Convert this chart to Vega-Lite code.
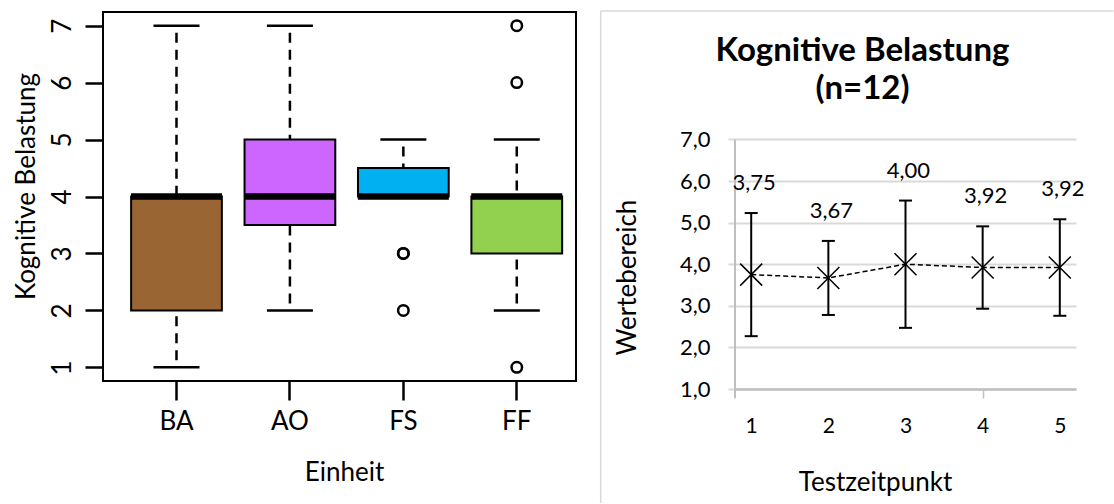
{
  "$schema": "https://vega.github.io/schema/vega-lite/v6.json",
  "padding": {"left": 12, "top": 10, "right": 0, "bottom": 0},
  "background": "white",
  "spacing": 22,
  "config": {"font": "Lato", "view": {"stroke": null}},
  "datasets": {
    "boxes": [
      {"unit": "BA", "min": 1, "q1": 2, "median": 4, "q3": 4, "max": 7},
      {"unit": "AO", "min": 2, "q1": 3.5, "median": 4, "q3": 5, "max": 7},
      {"unit": "FS", "min": 4, "q1": 4, "median": 4, "q3": 4.5, "max": 5},
      {"unit": "FF", "min": 2, "q1": 3, "median": 4, "q3": 4, "max": 5}
    ],
    "outliers": [
      {"unit": "FS", "value": 3},
      {"unit": "FS", "value": 3},
      {"unit": "FS", "value": 2},
      {"unit": "FF", "value": 7},
      {"unit": "FF", "value": 6},
      {"unit": "FF", "value": 1}
    ],
    "means": [
      {"t": 1, "mean": 3.75, "lo": 2.27, "hi": 5.23, "label": "3,75"},
      {"t": 2, "mean": 3.67, "lo": 2.78, "hi": 4.56, "label": "3,67"},
      {"t": 3, "mean": 4.0, "lo": 2.47, "hi": 5.53, "label": "4,00"},
      {"t": 4, "mean": 3.92, "lo": 2.93, "hi": 4.91, "label": "3,92"},
      {"t": 5, "mean": 3.92, "lo": 2.76, "hi": 5.08, "label": "3,92"}
    ]
  },
  "hconcat": [
    {
      "width": 473,
      "height": 369,
      "view": {"stroke": "black", "strokeWidth": 2},
      "encoding": {
        "x": {
          "field": "unit", "type": "nominal", "sort": ["BA", "AO", "FS", "FF"],
          "scale": {"paddingInner": 0.2, "paddingOuter": 0.185, "align": 0.67},
          "axis": {"title": "Einheit", "labelAngle": 0, "tickSize": 19, "tickWidth": 2.5, "tickColor": "black", "domain": false,
                   "labelFontSize": 26, "labelPadding": 8, "labelColor": "black",
                   "titleFontSize": 26, "titleFontWeight": "normal", "titleColor": "black",
                   "titleX": 241, "titleY": 91, "titleAlign": "center", "titleBaseline": "middle"}
        }
      },
      "layer": [
        {
          "data": {"name": "boxes"},
          "mark": {"type": "rule", "strokeDash": [10, 7], "strokeDashOffset": 10, "strokeWidth": 2.5, "color": "black"},
          "encoding": {
            "y": {"field": "max", "type": "quantitative", "scale": {"domain": [0.76, 7.24], "nice": false, "zero": false},
                  "axis": {"title": "Kognitive Belastung", "values": [1, 2, 3, 4, 5, 6, 7], "format": "d", "grid": false, "domain": false,
                           "labelAngle": -90, "labelAlign": "center", "labelBaseline": "bottom",
                           "tickSize": 18, "tickWidth": 2.5, "tickColor": "black",
                           "labelFontSize": 26, "labelPadding": 10, "labelColor": "black",
                           "titleFontSize": 26, "titleFontWeight": "normal", "titleColor": "black",
                           "titleX": -77, "titleY": 174, "titleAlign": "center", "titleBaseline": "middle", "titleAngle": -90}},
            "y2": {"field": "q3"}
          }
        },
        {
          "data": {"name": "boxes"},
          "mark": {"type": "rule", "strokeDash": [10, 7], "strokeDashOffset": 10, "strokeWidth": 2.5, "color": "black"},
          "encoding": {
            "y": {"field": "min", "type": "quantitative", "scale": {"domain": [0.76, 7.24], "nice": false, "zero": false}},
            "y2": {"field": "q1"}
          }
        },
        {
          "data": {"name": "boxes"},
          "mark": {"type": "tick", "orient": "horizontal", "size": 46, "thickness": 2.5, "color": "black", "opacity": 1},
          "encoding": {
            "y": {"field": "max", "type": "quantitative", "scale": {"domain": [0.76, 7.24], "nice": false, "zero": false}}
          }
        },
        {
          "data": {"name": "boxes"},
          "mark": {"type": "tick", "orient": "horizontal", "size": 46, "thickness": 2.5, "color": "black", "opacity": 1},
          "encoding": {
            "y": {"field": "min", "type": "quantitative", "scale": {"domain": [0.76, 7.24], "nice": false, "zero": false}}
          }
        },
        {
          "data": {"name": "boxes"},
          "mark": {"type": "bar", "stroke": "black", "strokeWidth": 2, "opacity": 1},
          "encoding": {
            "y": {"field": "q1", "type": "quantitative", "scale": {"domain": [0.76, 7.24], "nice": false, "zero": false}},
            "y2": {"field": "q3"},
            "fill": {"field": "unit", "type": "nominal", "scale": {"domain": ["BA", "AO", "FS", "FF"], "range": ["#996633", "#CC66FF", "#00B0F0", "#92D050"]}, "legend": null}
          }
        },
        {
          "data": {"name": "boxes"},
          "mark": {"type": "tick", "orient": "horizontal", "size": 91, "thickness": 6.5, "color": "black", "opacity": 1},
          "encoding": {
            "y": {"field": "median", "type": "quantitative", "scale": {"domain": [0.76, 7.24], "nice": false, "zero": false}}
          }
        },
        {
          "data": {"name": "outliers"},
          "mark": {"type": "point", "shape": "circle", "filled": false, "stroke": "black", "strokeWidth": 2.5, "size": 110, "opacity": 1},
          "encoding": {
            "y": {"field": "value", "type": "quantitative", "scale": {"domain": [0.76, 7.24], "nice": false, "zero": false}}
          }
        }
      ]
    },
    {
      "width": 341,
      "height": 377,
      "title": {"text": ["Kognitive Belastung", "(n=12)"], "fontSize": 33, "fontWeight": "bold", "color": "black", "anchor": "middle", "frame": "group", "offset": -96, "lineHeight": 38, "dx": -43},
      "layer": [
        {
          "data": {"name": "means"},
          "mark": {"type": "rule", "color": "black", "strokeWidth": 2},
          "encoding": {
            "x": {"field": "t", "type": "quantitative", "scale": {"domain": [0.79, 5.21], "nice": false, "zero": false},
                  "axis": {"title": "Testzeitpunkt", "values": [1, 2, 3, 4, 5], "format": "d", "grid": false,
                           "domain": true, "domainColor": "#bfbfbf", "domainWidth": 2.5,
                           "tickSize": 9, "tickWidth": 1.5,
                           "tickColor": {"condition": {"test": "datum.value === 4", "value": "#bfbfbf"}, "value": "transparent"},
                           "labelFontSize": 21, "labelPadding": 17, "labelColor": "black",
                           "titleFontSize": 26, "titleFontWeight": "normal", "titleColor": "black",
                           "titleX": 140, "titleY": 93, "titleAlign": "center", "titleBaseline": "middle"}},
            "y": {"field": "lo", "type": "quantitative", "scale": {"domain": [1, 10.063], "nice": false, "zero": false},
                  "axis": {"title": "Wertebereich", "values": [1, 2, 3, 4, 5, 6, 7],
                           "labelExpr": "replace(format(datum.value, '.1f'), '.', ',')",
                           "grid": true, "gridColor": "#d9d9d9", "gridWidth": 2, "domain": false,
                           "tickSize": 7, "tickWidth": 2, "tickColor": "#d9d9d9",
                           "labelFontSize": 22, "labelPadding": 18, "labelColor": "black",
                           "titleFontSize": 26, "titleFontWeight": "normal", "titleColor": "black",
                           "titleX": -108, "titleY": 265, "titleAlign": "center", "titleBaseline": "middle", "titleAngle": -90}},
            "y2": {"field": "hi"}
          }
        },
        {
          "data": {"values": [{}]},
          "mark": {"type": "rule", "color": "#d9d9d9", "strokeWidth": 1.5, "clip": false},
          "encoding": {
            "x": {"datum": -0.951, "type": "quantitative", "scale": {"domain": [0.79, 5.21], "nice": false, "zero": false}},
            "x2": {"datum": 5.698},
            "y": {"datum": 10.087, "type": "quantitative", "scale": {"domain": [1, 10.063], "nice": false, "zero": false}}
          }
        },
        {
          "data": {"values": [{}]},
          "mark": {"type": "rule", "color": "#d9d9d9", "strokeWidth": 1.5, "clip": false},
          "encoding": {
            "x": {"datum": -0.951, "type": "quantitative", "scale": {"domain": [0.79, 5.21], "nice": false, "zero": false}},
            "y": {"datum": -1.74, "type": "quantitative", "scale": {"domain": [1, 10.063], "nice": false, "zero": false}},
            "y2": {"datum": 10.087}
          }
        },
        {
          "data": {"values": [{}]},
          "mark": {"type": "rule", "color": "#bfbfbf", "strokeWidth": 2, "clip": false},
          "encoding": {
            "x": {"datum": 0.79, "type": "quantitative", "scale": {"domain": [0.79, 5.21], "nice": false, "zero": false}},
            "y": {"datum": 0.78, "type": "quantitative", "scale": {"domain": [1, 10.063], "nice": false, "zero": false}},
            "y2": {"datum": 7}
          }
        },
        {
          "data": {"name": "means"},
          "mark": {"type": "line", "color": "black", "strokeWidth": 1.5, "strokeDash": [5, 3]},
          "encoding": {
            "x": {"field": "t", "type": "quantitative", "scale": {"domain": [0.79, 5.21], "nice": false, "zero": false}},
            "y": {"field": "mean", "type": "quantitative", "scale": {"domain": [1, 10.063], "nice": false, "zero": false}}
          }
        },
        {
          "data": {"name": "means"},
          "mark": {"type": "tick", "orient": "horizontal", "size": 13, "thickness": 2, "color": "black", "opacity": 1},
          "encoding": {
            "x": {"field": "t", "type": "quantitative", "scale": {"domain": [0.79, 5.21], "nice": false, "zero": false}},
            "y": {"field": "lo", "type": "quantitative", "scale": {"domain": [1, 10.063], "nice": false, "zero": false}}
          }
        },
        {
          "data": {"name": "means"},
          "mark": {"type": "tick", "orient": "horizontal", "size": 13, "thickness": 2, "color": "black", "opacity": 1},
          "encoding": {
            "x": {"field": "t", "type": "quantitative", "scale": {"domain": [0.79, 5.21], "nice": false, "zero": false}},
            "y": {"field": "hi", "type": "quantitative", "scale": {"domain": [1, 10.063], "nice": false, "zero": false}}
          }
        },
        {
          "data": {"name": "means"},
          "mark": {"type": "point", "shape": "M-1,-1L1,1M-1,1L1,-1", "filled": false, "stroke": "black", "strokeWidth": 1.5, "size": 484, "opacity": 1},
          "encoding": {
            "x": {"field": "t", "type": "quantitative", "scale": {"domain": [0.79, 5.21], "nice": false, "zero": false}},
            "y": {"field": "mean", "type": "quantitative", "scale": {"domain": [1, 10.063], "nice": false, "zero": false}}
          }
        },
        {
          "data": {"name": "means"},
          "mark": {"type": "text", "fontSize": 22, "color": "black", "dy": -30, "dx": 3, "baseline": "middle", "align": "center"},
          "encoding": {
            "x": {"field": "t", "type": "quantitative", "scale": {"domain": [0.79, 5.21], "nice": false, "zero": false}},
            "y": {"field": "hi", "type": "quantitative", "scale": {"domain": [1, 10.063], "nice": false, "zero": false}},
            "text": {"field": "label", "type": "nominal"}
          }
        }
      ]
    }
  ]
}
